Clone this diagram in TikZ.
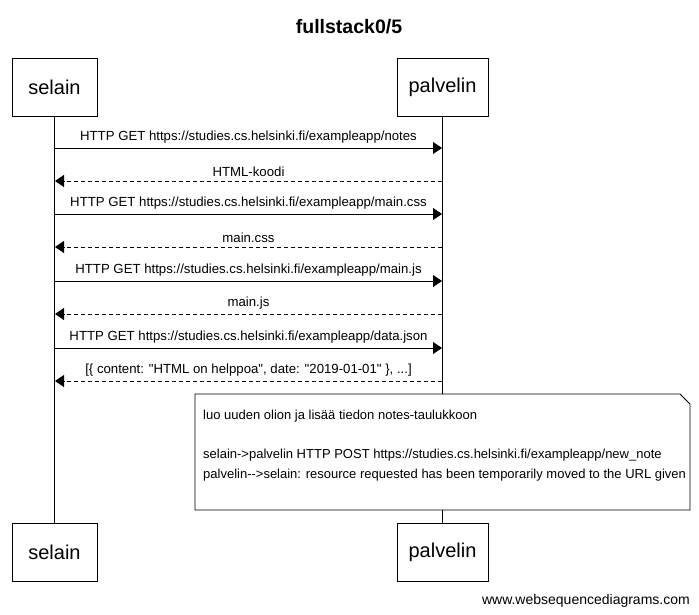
\documentclass[tikz,border=0pt]{standalone}
\usepackage{fontspec}
\setmainfont{Liberation Sans}[Ligatures=TeXOff]
\usetikzlibrary{arrows.meta}
\begin{document}
\begin{tikzpicture}[x=1pt,y=-1pt,
  actor/.style={draw,line width=0.8pt,minimum height=58pt,inner sep=0pt,font=\fontsize{20}{22}\selectfont},
  msg/.style={line width=0.8pt,-{Triangle[length=9pt,width=12pt]}},
  reply/.style={msg,dash pattern=on 4pt off 3pt},
  lbl/.style={font=\fontsize{13.2}{15}\selectfont,inner sep=1pt,anchor=base},
  life/.style={line width=0.8pt},
  notetxt/.style={font=\fontsize{13}{15}\selectfont,anchor=base west,inner sep=0pt}]
\useasboundingbox (0,0) rectangle (699,614);
\node[font=\bfseries\fontsize{19.5}{22}\selectfont] (title) at (349,27) {fullstack0/5};
\node[actor,minimum width=85pt] (s1) at (54.5,87) {selain};
\node[actor,minimum width=91pt] (p1) at (442.5,87) {palvelin};
\node[actor,minimum width=85pt] (s2) at (54.5,552) {selain};
\node[actor,minimum width=91pt] (p2) at (442.5,552) {palvelin};
\draw[life] (s1.south) -- (s2.north);
\draw[life] (p1.south) -- (p2.north);
\foreach \n/\y in {1/148,2/181,3/214,4/247,5/281,6/314,7/348,8/381}{
  \coordinate (sa\n) at (55,\y);
  \coordinate (pa\n) at (442,\y);
}
\draw[msg] (sa1) -- node[lbl,above=3pt]{HTTP GET https://studies.cs.helsinki.fi/exampleapp/notes} (pa1);
\draw[reply] (pa2) -- node[lbl,above=3pt]{HTML-koodi} (sa2);
\draw[msg] (sa3) -- node[lbl,above=3pt]{HTTP GET https://studies.cs.helsinki.fi/exampleapp/main.css} (pa3);
\draw[reply] (pa4) -- node[lbl,above=3pt]{main.css} (sa4);
\draw[msg] (sa5) -- node[lbl,above=3pt]{HTTP GET https://studies.cs.helsinki.fi/exampleapp/main.js} (pa5);
\draw[reply] (pa6) -- node[lbl,above=3pt]{main.js} (sa6);
\draw[msg] (sa7) -- node[lbl,above=3pt]{HTTP GET https://studies.cs.helsinki.fi/exampleapp/data.json} (pa7);
\draw[reply] (pa8) -- node[lbl,above=3pt]{[\{ content: "HTML on helppoa", date: "2019-01-01" \}, ...]} (sa8);
\draw[fill=white,line width=0.8pt] (195,394) -- (680,394) -- (690,404) -- (690,510) -- (195,510) -- cycle;
\node[notetxt] (n1) at (203,419) {luo uuden olion ja lisää tiedon notes-taulukkoon};
\node[notetxt] (n2) at (203,458) {selain->palvelin HTTP POST https://studies.cs.helsinki.fi/exampleapp/new\_note};
\node[notetxt] (n3) at (203,478) {palvelin-->selain: resource requested has been temporarily moved to the URL given};
\node[font=\fontsize{14}{16}\selectfont,anchor=base east,inner sep=0pt] (foot) at (690,604) {www.websequencediagrams.com};
\end{tikzpicture}
\end{document}
